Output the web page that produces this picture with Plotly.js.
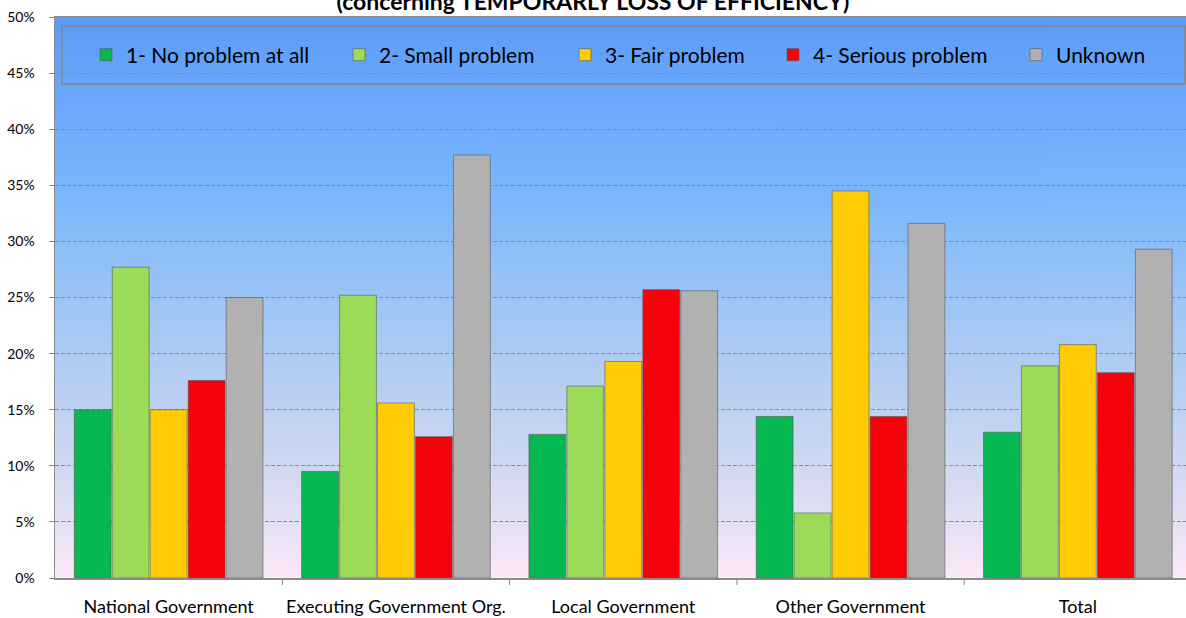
<!DOCTYPE html>
<html>
<head>
<meta charset="utf-8">
<script src="https://cdn.plot.ly/plotly-3.0.1.min.js"></script>
<style>
html,body{margin:0;padding:0;background:#fff;}
#chart{width:1186px;height:618px;}
</style>
</head>
<body>
<div id="chart"></div>
<script>
// ---- data ----
const categories = ["National Government", "Executing Government Org.", "Local Government", "Other Government", "Total"];
const seriesNames = ["1- No problem at all", "2- Small problem", "3- Fair problem", "4- Serious problem", "Unknown"];
const noProblem   = [15.0,  9.5, 12.8, 14.4, 13.0];
const smallProb   = [27.7, 25.2, 17.1,  5.8, 18.9];
const fairProb    = [15.0, 15.6, 19.3, 34.5, 20.8];
const seriousProb = [17.6, 12.6, 25.7, 14.4, 18.3];
const unknownVals = [25.0, 37.7, 25.6, 31.6, 29.3];
const yTickVals   = [0, 5, 10, 15, 20, 25, 30, 35, 40, 45, 50];
const yTickText   = ["0%", "5%", "10%", "15%", "20%", "25%", "30%", "35%", "40%", "45%", "50%"];
const titleText   = "(concerning TEMPORARLY LOSS OF EFFICIENCY)";

// ---- style ----
const colors = ["#05b852", "#9cdb58", "#ffcb04", "#f6020a", "#b1b1b1"];
const allValues = [noProblem, smallProb, fairProb, seriousProb, unknownVals];
const FONT = "Lato, 'Open Sans', sans-serif";

const W = 1186, H = 618;
const M = {l: 55, r: 0, t: 17, b: 40};
const plotW = W - M.l - M.r;
const catPx = 227.3;

// legend entry left positions (px)
const legendPx = [86, 339, 565, 773, 1016];
const legendY = 55;
const toPaperX = px => (px - M.l) / plotW;
const toPaperY = py => (H - M.b - py) / (H - M.t - M.b);

const traces = allValues.map((vals, i) => ({
  type: "bar",
  name: seriesNames[i],
  x: categories.map((c, k) => k),
  y: vals,
  legend: i === 0 ? "legend" : "legend" + (i + 1),
  marker: {color: colors[i], line: {color: "rgba(80,80,80,0.55)", width: 1}},
  hoverinfo: "y+name"
}));

// gradient background image
function gradientURL() {
  const c = document.createElement("canvas");
  c.width = 4; c.height = 560;
  const g = c.getContext("2d");
  const gr = g.createLinearGradient(0, 0, 0, 560);
  gr.addColorStop(0.0, "rgb(92,156,250)");
  gr.addColorStop(0.3, "rgb(120,182,252)");
  gr.addColorStop(0.55, "rgb(165,200,244)");
  gr.addColorStop(0.8, "rgb(207,216,240)");
  gr.addColorStop(1.0, "rgb(251,232,248)");
  g.fillStyle = gr;
  g.fillRect(0, 0, 4, 560);
  return c.toDataURL("image/png");
}

const layout = {
  width: W, height: H,
  margin: M,
  paper_bgcolor: "#ffffff",
  plot_bgcolor: "rgba(0,0,0,0)",
  font: {family: FONT, color: "#000"},
  title: {
    text: titleText,
    font: {family: FONT, size: 23, color: "#000", weight: "bold"},
    x: 0.5, xref: "container", xanchor: "center",
    y: 0.997, yref: "container", yanchor: "middle"
  },
  barmode: "group",
  bargap: 0.165,
  bargroupgap: 0.03,
  xaxis: {
    type: "linear",
    range: [-0.5, -0.5 + plotW / catPx],
    tickmode: "array",
    tickvals: [0, 1, 2, 3, 4],
    ticktext: categories,
    ticks: "",
    showgrid: false,
    zeroline: false,
    showline: true, mirror: true,
    linecolor: "#8a8a8a", linewidth: 1.5,
    tickfont: {family: FONT, size: 18, color: "#000"},
    ticklabelstandoff: 12,
    fixedrange: true
  },
  yaxis: {
    range: [0, 50],
    tickmode: "array",
    tickvals: yTickVals,
    ticktext: yTickText,
    ticks: "outside", ticklen: 5, tickcolor: "#8a8a8a", tickwidth: 1,
    showgrid: true, gridcolor: "#8c8c8c", gridwidth: 1, griddash: "4px,2px",
    zeroline: false,
    showline: true, linecolor: "#8a8a8a", linewidth: 1.5,
    tickfont: {family: FONT, size: 14, color: "#000"},
    ticklabelstandoff: 11,
    fixedrange: true
  },
  images: [{
    source: gradientURL(),
    xref: "paper", yref: "paper",
    x: 0, y: 1, sizex: 1, sizey: 1,
    xanchor: "left", yanchor: "top",
    sizing: "stretch", layer: "below"
  }],
  shapes: [
    // legend frame
    {type: "rect", xref: "paper", yref: "paper",
     x0: toPaperX(62), x1: toPaperX(1185), y0: toPaperY(84), y1: toPaperY(26),
     line: {color: "#858585", width: 1.5}, fillcolor: "rgba(0,0,0,0)", layer: "above"}
  ].concat(
    // x-axis category boundary ticks
    [1, 2, 3, 4].map(k => ({
      type: "line", xref: "x", yref: "paper",
      x0: k - 0.5, x1: k - 0.5, y0: 0, y1: -7 / (H - M.t - M.b),
      line: {color: "#8a8a8a", width: 1}
    }))
  ),
  showlegend: true
};

seriesNames.forEach((n, i) => {
  const key = i === 0 ? "legend" : "legend" + (i + 1);
  layout[key] = {
    x: toPaperX(legendPx[i]), xref: "paper", xanchor: "left",
    y: toPaperY(legendY), yref: "paper", yanchor: "middle",
    orientation: "h",
    bgcolor: "rgba(0,0,0,0)", borderwidth: 0,
    font: {family: FONT, size: 21, color: "#000"}
  };
});

Plotly.newPlot("chart", traces, layout, {displayModeBar: false, staticPlot: true});
</script>
</body>
</html>
